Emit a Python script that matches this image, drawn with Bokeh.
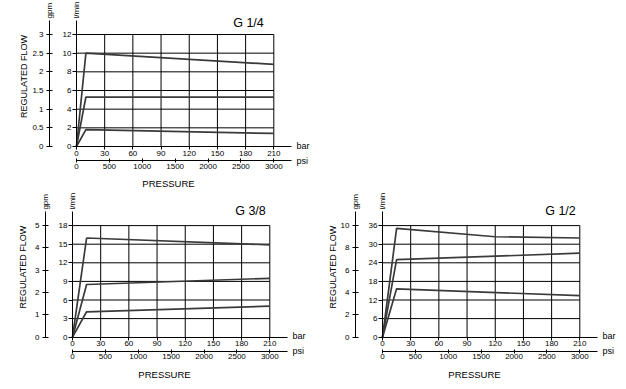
import math
from bokeh.plotting import figure
from bokeh.models import Range1d, LinearAxis, FixedTicker, Label
from bokeh.embed import file_html
from bokeh.resources import INLINE

# ---------------- data ----------------
bar_ticks = [0, 30, 60, 90, 120, 150, 180, 210]
psi_ticks = [0, 500, 1000, 1500, 2000, 2500, 3000]

# G 1/4
g14_lmin_ticks = [0, 2, 4, 6, 8, 10, 12]
g14_gpm_ticks = [0, 0.5, 1, 1.5, 2, 2.5, 3]
g14_gpm_labels = ["0", "0.5", "1", "1.5", "2", "2.5", "3"]
g14_pressure = [0, 10, 210]
g14_high = [0, 10.0, 8.8]
g14_mid = [0, 5.3, 5.3]
g14_low = [0, 1.8, 1.4]

# G 3/8
g38_lmin_ticks = [0, 3, 6, 9, 12, 15, 18]
g38_gpm_ticks = [0, 1, 2, 3, 4, 5]
g38_gpm_labels = ["0", "1", "2", "3", "4", "5"]
g38_pressure = [0, 15, 210]
g38_high = [0, 16.0, 14.9]
g38_mid = [0, 8.5, 9.5]
g38_low = [0, 4.1, 5.0]

# G 1/2
g12_lmin_ticks = [0, 6, 12, 18, 24, 30, 36]
g12_gpm_ticks = [0, 2, 4, 6, 8, 10]
g12_gpm_labels = ["0", "2", "4", "6", "8", "10"]
g12_pressure_high = [0, 15, 120, 210]
g12_high = [0, 35.1, 32.4, 32.0]
g12_pressure = [0, 15, 210]
g12_mid = [0, 25.0, 27.1]
g12_low = [0, 15.6, 13.4]

FONT = "Liberation Sans"
LINE_COLOR = "#3a3a3a"
W, H = 624, 388

p = figure(width=W, height=H, x_range=(0, 1), y_range=(0, 1),
           x_axis_location=None, y_axis_location=None,
           toolbar_location=None, output_backend="svg", min_border=0,
           title=None)
p.min_border_left = p.min_border_right = 0
p.min_border_top = p.min_border_bottom = 0
p.outline_line_color = None
for g in p.grid:
    g.visible = False


def add_chart(name, title, lmin_ticks, gpm_ticks, gpm_labels, series,
              bar0, y0, ytop, title_dx, title_dy, flow_dx):
    bar_max = bar_ticks[-1]
    psi_max = psi_ticks[-1]
    lmin_max = lmin_ticks[-1]
    gpm_max = gpm_ticks[-1]
    kx = 197.3 / bar_max            # px per bar
    ky = (y0 - ytop) / lmin_max     # px per l/min
    X = lambda px: px / kx
    Y = lambda px: px / ky
    g_ratio = gpm_max / lmin_max
    p_ratio = psi_max / bar_max

    xs0, xs1 = -X(bar0), X(W - bar0)
    ys0, ys1 = -Y(H - y0), Y(y0)
    xn, yn, gn, pn = name + "_bar", name + "_lmin", name + "_gpm", name + "_psi"
    p.extra_x_ranges[xn] = Range1d(xs0, xs1)
    p.extra_x_ranges[pn] = Range1d(xs0 * p_ratio, xs1 * p_ratio)
    p.extra_y_ranges[yn] = Range1d(ys0, ys1)
    p.extra_y_ranges[gn] = Range1d(ys0 * g_ratio, ys1 * g_ratio)
    rk = dict(x_range_name=xn, y_range_name=yn)

    # grid
    vx = bar_ticks[1:]
    p.segment(x0=vx, y0=[0] * len(vx), x1=vx, y1=[lmin_max] * len(vx),
              line_color="black", line_width=1, **rk)
    hy = lmin_ticks[1:]
    p.segment(x0=[0] * len(hy), y0=hy, x1=[bar_max] * len(hy), y1=hy,
              line_color="black", line_width=1, **rk)

    # series
    for xs, ys in series:
        p.line(xs, ys, line_color=LINE_COLOR, line_width=1.7, **rk)

    axis_top = lmin_max + Y(14)
    bar_end = X(215)
    gpm_loc = -X(27)
    psi_loc = -Y(14)

    def style(ax):
        ax.axis_line_color = "black"
        ax.major_tick_line_color = "black"
        ax.minor_tick_line_color = None
        ax.major_label_text_font = FONT
        ax.major_label_text_font_size = "8px"
        ax.major_label_text_color = "black"

    lmin_ax = LinearAxis(fixed_location=0, bounds=(0, axis_top),
                         ticker=FixedTicker(ticks=lmin_ticks), **rk)
    style(lmin_ax)
    lmin_ax.major_tick_out = 4
    lmin_ax.major_tick_in = 0
    lmin_ax.major_label_standoff = 1
    p.add_layout(lmin_ax, "left")

    gpm_ax = LinearAxis(x_range_name=xn, y_range_name=gn, fixed_location=gpm_loc,
                        bounds=(0, axis_top * g_ratio),
                        ticker=FixedTicker(ticks=gpm_ticks),
                        major_label_overrides={float(t): l for t, l in zip(gpm_ticks, gpm_labels)})
    style(gpm_ax)
    gpm_ax.major_tick_out = 3
    gpm_ax.major_tick_in = 3
    gpm_ax.major_label_standoff = 3
    p.add_layout(gpm_ax, "left")

    bar_ax = LinearAxis(fixed_location=0, bounds=(0, bar_end),
                        ticker=FixedTicker(ticks=bar_ticks), **rk)
    style(bar_ax)
    bar_ax.major_tick_out = 3
    bar_ax.major_tick_in = 0
    bar_ax.major_label_standoff = 1
    p.add_layout(bar_ax, "below")

    psi_ax = LinearAxis(x_range_name=pn, y_range_name=yn, fixed_location=psi_loc,
                        bounds=(0, bar_end * p_ratio),
                        ticker=FixedTicker(ticks=psi_ticks))
    style(psi_ax)
    psi_ax.major_tick_out = 2
    psi_ax.major_tick_in = 2
    psi_ax.major_label_standoff = 1
    p.add_layout(psi_ax, "below")

    def lab(text, x, y, size, align="left", baseline="middle", angle=0.0):
        p.add_layout(Label(x=x, y=y, text=text, text_font=FONT,
                           text_font_size=size, text_color="black",
                           text_align=align, text_baseline=baseline,
                           angle=angle, **rk))

    lab("bar", bar_end + X(5), Y(1), "9px")
    lab("psi", bar_end + X(5), psi_loc, "9px")
    lab("gpm", gpm_loc, axis_top + Y(2), "8px", angle=math.pi / 2)
    lab("l/min", 0, axis_top + Y(2), "8px", angle=math.pi / 2)
    lab("REGULATED FLOW", -X(flow_dx), Y(70), "9px", align="center", angle=math.pi / 2)
    lab("PRESSURE", X(92), -Y(37), "9.5px", align="center")
    lab(title, X(title_dx), lmin_max + Y(title_dy), "12.5px", align="center")


add_chart("g14", "G 1/4", g14_lmin_ticks, g14_gpm_ticks, g14_gpm_labels,
          [(g14_pressure, g14_high), (g14_pressure, g14_mid), (g14_pressure, g14_low)],
          76, 146, 34, 172, 12, 53)
add_chart("g38", "G 3/8", g38_lmin_ticks, g38_gpm_ticks, g38_gpm_labels,
          [(g38_pressure, g38_high), (g38_pressure, g38_mid), (g38_pressure, g38_low)],
          72, 336.7, 225.1, 178, 15, 49.5)
add_chart("g12", "G 1/2", g12_lmin_ticks, g12_gpm_ticks, g12_gpm_labels,
          [(g12_pressure_high, g12_high), (g12_pressure, g12_mid), (g12_pressure, g12_low)],
          382, 336.7, 225.1, 178, 15, 49.5)

open("out.html", "w").write(file_html(p, INLINE))
